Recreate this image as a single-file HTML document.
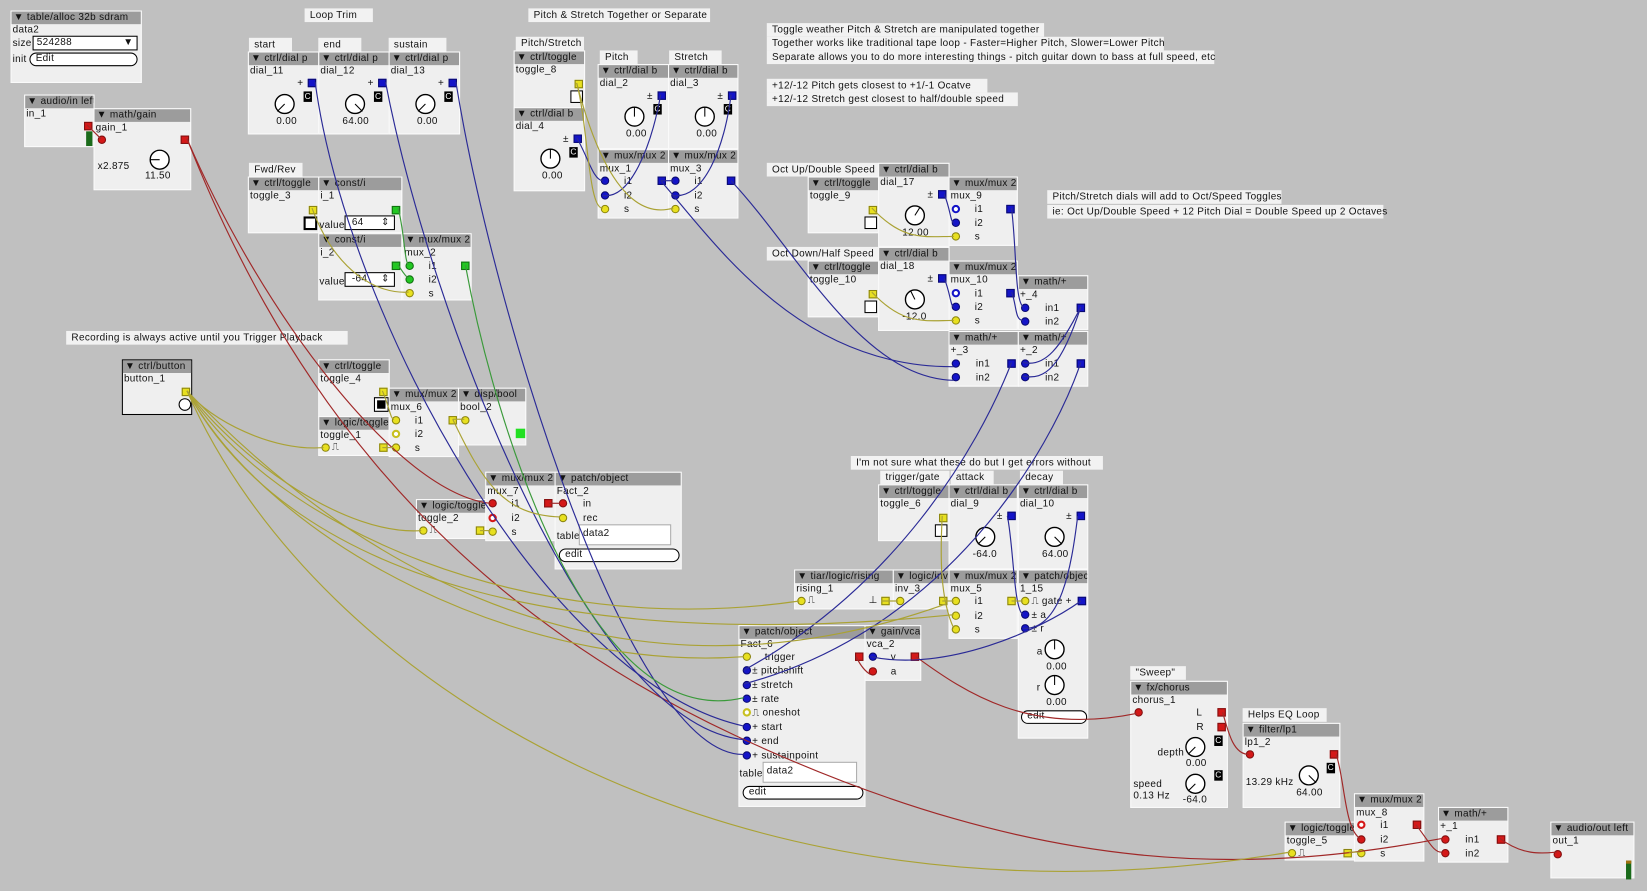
<!DOCTYPE html>
<html><head><meta charset="utf-8"><style>
html,body{margin:0;padding:0;background:#c0c0c0;width:1647px;height:891px;overflow:hidden}
.c{position:absolute;left:0;top:0;width:1568px;height:848px;transform:scale(1.0504,1.0507);transform-origin:0 0;font-family:"Liberation Sans",sans-serif;font-size:9.5px;color:#111;letter-spacing:.3px}
.o{position:absolute;background:#efefef;border:1px solid #fafafa;box-sizing:border-box}
.h{background:#9c9c9c;height:12px;line-height:12px;padding-left:2px;white-space:nowrap;overflow:hidden}
.n{height:12px;line-height:12px;padding-left:1px;white-space:nowrap}
.cm{position:absolute;background:#f2f2f2;height:13px;line-height:13px;padding:0 5px;white-space:nowrap;box-sizing:border-box}
.a{position:absolute;white-space:nowrap;line-height:11px}
.pi,.po{position:absolute;width:8px;height:8px;box-sizing:border-box}
.pi{border-radius:50%}
.R{background:#d41818;border:1px solid #801010}
.B{background:#1414c8;border:1px solid #0a0a70}
.Y{background:#e8e020;border:1px solid #8a8410}
.G{background:#22c822;border:1px solid #107010}
.ring{background:#fff;border:2px solid #1414c8}
.ringr{background:#fff;border:2px solid #d41818}
.ringy{background:#fff;border:2px solid #c8c020}
.bx{position:absolute;width:11px;height:11px;border:1px solid #000;background:#fff;box-sizing:border-box}
.cc{position:absolute;width:8px;height:10px;background:#000;color:#fff;font-size:8px;line-height:10px;text-align:center}
.btn{position:absolute;height:11px;border:1px solid #000;border-radius:7px;background:#fff;line-height:10px;padding-left:5px;box-sizing:border-box}
.fld{position:absolute;height:17px;border:1px solid #aaa;background:#fff;line-height:15px;padding-left:3px;box-sizing:border-box}
svg.w{position:absolute;left:0;top:0}
</style></head><body><div class="c">

<!-- comments -->
<div class="cm" style="left:290px;top:8px;width:65px">Loop Trim</div>
<div class="cm" style="left:503px;top:8px;width:173px">Pitch &amp; Stretch Together or Separate</div>
<div class="cm" style="left:237px;top:36px;width:41px">start</div>
<div class="cm" style="left:303px;top:36px;width:41px">end</div>
<div class="cm" style="left:370px;top:36px;width:55px">sustain</div>
<div class="cm" style="left:237px;top:155px;width:51px">Fwd/Rev</div>
<div class="cm" style="left:491px;top:35px;width:65px">Pitch/Stretch</div>
<div class="cm" style="left:571px;top:48px;width:36px">Pitch</div>
<div class="cm" style="left:637px;top:48px;width:50px">Stretch</div>
<div class="cm" style="left:730px;top:22px;width:264px">Toggle weather Pitch &amp; Stretch are manipulated together</div>
<div class="cm" style="left:730px;top:35px;width:378px">Together works like traditional tape loop - Faster=Higher Pitch, Slower=Lower Pitch</div>
<div class="cm" style="left:730px;top:48px;width:426px">Separate allows you to do more interesting things - pitch guitar down to bass at full speed, etc</div>
<div class="cm" style="left:730px;top:75px;width:210px">+12/-12 Pitch gets closest to +1/-1 Ocatve</div>
<div class="cm" style="left:730px;top:88px;width:239px">+12/-12 Stretch gest closest to half/double speed</div>
<div class="cm" style="left:730px;top:155px;width:106px">Oct Up/Double Speed</div>
<div class="cm" style="left:730px;top:235px;width:106px">Oct Down/Half Speed</div>
<div class="cm" style="left:997px;top:181px;width:223px">Pitch/Stretch dials will add to Oct/Speed Toggles</div>
<div class="cm" style="left:997px;top:195px;width:320px">ie: Oct Up/Double Speed + 12 Pitch Dial = Double Speed up 2 Octaves</div>
<div class="cm" style="left:63px;top:315px;width:268px">Recording is always active until you Trigger Playback</div>
<div class="cm" style="left:810px;top:434px;width:240px">I'm not sure what these do but I get errors without</div>
<div class="cm" style="left:838px;top:448px;width:66px">trigger/gate</div>
<div class="cm" style="left:905px;top:448px;width:41px">attack</div>
<div class="cm" style="left:971px;top:448px;width:41px">decay</div>
<div class="cm" style="left:1076px;top:634px;width:53px">"Sweep"</div>
<div class="cm" style="left:1183px;top:674px;width:80px">Helps EQ Loop</div>

<!-- table alloc -->
<div class="o" style="left:10px;top:10px;width:125px;height:69px"><div class="h">▼ table/alloc 32b sdram</div><div class="n">data2</div>
<div class="a" style="left:1px;top:25px">size</div><div class="fld" style="left:20px;top:23px;width:100px;height:14px;border-color:#000;line-height:12px">524288<span style="position:absolute;right:3px">▼</span></div>
<div class="a" style="left:1px;top:40px">init</div><div class="btn" style="left:17px;top:39px;width:103px;height:13px">Edit</div></div>

<!-- audio in -->
<div class="o" style="left:23px;top:90px;width:67px;height:50px"><div class="h">▼ audio/in left</div><div class="n">in_1</div>
<div class="po R" style="left:56px;top:25px"></div><div style="position:absolute;left:58px;top:34px;width:6px;height:14px;background:#1a6a1a"></div></div>
<!-- gain -->
<div class="o" style="left:89px;top:103px;width:93px;height:78px"><div class="h">▼ math/gain</div><div class="n">gain_1</div>
<div class="pi R" style="left:3px;top:25px"></div><div class="po R" style="left:82px;top:25px"></div>
<div class="a" style="left:3px;top:49px">x2.875</div>
<svg style="position:absolute;left:50px;top:36px" width="24" height="24"><circle cx="12" cy="12" r="9" fill="#fff" stroke="#000" stroke-width="1.3"/><line x1="12" y1="12" x2="3" y2="12" stroke="#000"/></svg><div class="a" style="left:48px;top:58px">11.50</div></div>

<!-- dials p -->
<div class="o" style="left:236px;top:49px;width:68px;height:79px"><div class="h">▼ ctrl/dial p</div><div class="n">dial_11</div><div class="a" style="left:46px;top:24px">+</div><div class="po B" style="left:56px;top:25px"></div><div class="cc" style="left:52px;top:37px">C</div>
<svg style="position:absolute;left:22px;top:37px" width="24" height="24"><circle cx="12" cy="12" r="9" fill="#fff" stroke="#000" stroke-width="1.3"/><line x1="12" y1="12" x2="5" y2="19" stroke="#000"/></svg><div class="a" style="left:26px;top:60px">0.00</div></div>
<div class="o" style="left:303px;top:49px;width:68px;height:79px"><div class="h">▼ ctrl/dial p</div><div class="n">dial_12</div><div class="a" style="left:46px;top:24px">+</div><div class="po B" style="left:56px;top:25px"></div><div class="cc" style="left:52px;top:37px">C</div>
<svg style="position:absolute;left:22px;top:37px" width="24" height="24"><circle cx="12" cy="12" r="9" fill="#fff" stroke="#000" stroke-width="1.3"/><line x1="12" y1="12" x2="19" y2="19" stroke="#000"/></svg><div class="a" style="left:22px;top:60px">64.00</div></div>
<div class="o" style="left:370px;top:49px;width:68px;height:79px"><div class="h">▼ ctrl/dial p</div><div class="n">dial_13</div><div class="a" style="left:46px;top:24px">+</div><div class="po B" style="left:56px;top:25px"></div><div class="cc" style="left:52px;top:37px">C</div>
<svg style="position:absolute;left:22px;top:37px" width="24" height="24"><circle cx="12" cy="12" r="9" fill="#fff" stroke="#000" stroke-width="1.3"/><line x1="12" y1="12" x2="5" y2="19" stroke="#000"/></svg><div class="a" style="left:26px;top:60px">0.00</div></div>

<!-- toggle_3, const -->
<div class="o" style="left:236px;top:168px;width:68px;height:54px"><div class="h">▼ ctrl/toggle</div><div class="n">toggle_3</div><div class="po Y" style="left:57px;top:27px"></div><div class="bx" style="left:52px;top:37px;border-width:2px;width:13px;height:13px"></div></div>
<div class="o" style="left:303px;top:168px;width:80px;height:54px"><div class="h">▼ const/i</div><div class="n">i_1</div><div class="po G" style="left:69px;top:27px"></div><div class="a" style="left:0;top:40px">value</div><div class="fld" style="left:24px;top:36px;width:48px;height:14px;line-height:12px;border-color:#000">&nbsp;64<span style="position:absolute;right:4px">⇕</span></div></div>
<div class="o" style="left:303px;top:222px;width:80px;height:64px"><div class="h">▼ const/i</div><div class="n">i_2</div><div class="po G" style="left:69px;top:26px"></div><div class="a" style="left:0;top:40px">value</div><div class="fld" style="left:24px;top:36px;width:48px;height:14px;line-height:12px;border-color:#000">&nbsp;-64<span style="position:absolute;right:4px">⇕</span></div></div>
<div class="o" style="left:383px;top:222px;width:66px;height:64px"><div class="h">▼ mux/mux 2</div><div class="n">mux_2</div>
<div class="pi G" style="left:2px;top:26px"></div><div class="a" style="left:24px;top:25px">i1</div><div class="po G" style="left:55px;top:26px"></div>
<div class="pi G" style="left:2px;top:39px"></div><div class="a" style="left:24px;top:38px">i2</div>
<div class="pi Y" style="left:2px;top:52px"></div><div class="a" style="left:24px;top:51px">s</div></div>

<!-- button -->
<div class="o" style="left:116px;top:342px;width:67px;height:53px;border-color:#000"><div class="h">▼ ctrl/button</div><div class="n">button_1</div><div class="po Y" style="left:56px;top:26px"></div><div class="bx" style="left:53px;top:36px;border-radius:50%;width:12px;height:12px"></div></div>

<!-- toggle_4, toggle_1, mux_6, bool_2 -->
<div class="o" style="left:303px;top:342px;width:68px;height:55px"><div class="h">▼ ctrl/toggle</div><div class="n">toggle_4</div><div class="po Y" style="left:57px;top:26px"></div><div class="bx" style="left:53px;top:36px;background:#000;border:2px solid #fff;outline:1px solid #000;width:12px;height:12px"></div></div>
<div class="o" style="left:303px;top:396px;width:68px;height:38px"><div class="h">▼ logic/toggle</div><div class="n">toggle_1</div><div class="pi Y" style="left:2px;top:25px"></div><div class="a" style="left:12px;top:23px">⎍</div><div class="po Y" style="left:57px;top:25px"></div></div>
<div class="o" style="left:370px;top:369px;width:67px;height:66px"><div class="h">▼ mux/mux 2</div><div class="n">mux_6</div>
<div class="pi Y" style="left:2px;top:26px"></div><div class="a" style="left:24px;top:25px">i1</div><div class="po Y" style="left:56px;top:26px"></div>
<div class="pi ringy" style="left:2px;top:39px"></div><div class="a" style="left:24px;top:38px">i2</div>
<div class="pi Y" style="left:2px;top:52px"></div><div class="a" style="left:24px;top:51px">s</div></div>
<div class="o" style="left:436px;top:369px;width:65px;height:55px"><div class="h">▼ disp/bool</div><div class="n">bool_2</div><div class="pi Y" style="left:2px;top:26px"></div><div style="position:absolute;left:54px;top:38px;width:9px;height:9px;background:#22e022"></div></div>

<!-- toggle_2, mux_7, Fact_2 -->
<div class="o" style="left:396px;top:475px;width:67px;height:38px"><div class="h">▼ logic/toggle</div><div class="n">toggle_2</div><div class="pi Y" style="left:2px;top:25px"></div><div class="a" style="left:12px;top:23px">⎍</div><div class="po Y" style="left:56px;top:25px"></div></div>
<div class="o" style="left:462px;top:449px;width:67px;height:66px"><div class="h">▼ mux/mux 2</div><div class="n">mux_7</div>
<div class="pi R" style="left:2px;top:25px"></div><div class="a" style="left:24px;top:24px">i1</div><div class="po R" style="left:55px;top:25px"></div>
<div class="pi ringr" style="left:2px;top:39px"></div><div class="a" style="left:24px;top:38px">i2</div>
<div class="pi Y" style="left:2px;top:52px"></div><div class="a" style="left:24px;top:51px">s</div></div>
<div class="o" style="left:528px;top:449px;width:121px;height:93px"><div class="h">▼ patch/object</div><div class="n">Fact_2</div>
<div class="pi R" style="left:3px;top:25px"></div><div class="a" style="left:26px;top:24px">in</div>
<div class="pi Y" style="left:3px;top:39px"></div><div class="a" style="left:26px;top:38px">rec</div>
<div class="a" style="left:1px;top:55px">table</div><div class="fld" style="left:22px;top:49px;width:88px;height:20px">data2</div>
<div class="btn" style="left:3px;top:72px;width:115px;height:13px">edit</div></div>

<!-- pitch/stretch -->
<div class="o" style="left:489px;top:48px;width:68px;height:55px"><div class="h">▼ ctrl/toggle</div><div class="n">toggle_8</div><div class="po Y" style="left:57px;top:27px"></div><div class="bx" style="left:53px;top:37px;width:12px;height:12px"></div></div>
<div class="o" style="left:489px;top:102px;width:68px;height:80px"><div class="h">▼ ctrl/dial b</div><div class="n">dial_4</div><div class="a" style="left:46px;top:24px">±</div><div class="po B" style="left:56px;top:25px"></div><div class="cc" style="left:52px;top:37px">C</div>
<svg style="position:absolute;left:22px;top:36px" width="24" height="24"><circle cx="12" cy="12" r="9" fill="#fff" stroke="#000" stroke-width="1.3"/><line x1="12" y1="12" x2="12" y2="3" stroke="#000"/></svg><div class="a" style="left:26px;top:59px">0.00</div></div>
<div class="o" style="left:569px;top:61px;width:68px;height:81px"><div class="h">▼ ctrl/dial b</div><div class="n">dial_2</div><div class="a" style="left:46px;top:24px">±</div><div class="po B" style="left:56px;top:25px"></div><div class="cc" style="left:52px;top:37px">C</div>
<svg style="position:absolute;left:22px;top:37px" width="24" height="24"><circle cx="12" cy="12" r="9" fill="#fff" stroke="#000" stroke-width="1.3"/><line x1="12" y1="12" x2="12" y2="3" stroke="#000"/></svg><div class="a" style="left:26px;top:60px">0.00</div></div>
<div class="o" style="left:636px;top:61px;width:67px;height:81px"><div class="h">▼ ctrl/dial b</div><div class="n">dial_3</div><div class="a" style="left:46px;top:24px">±</div><div class="po B" style="left:56px;top:25px"></div><div class="cc" style="left:52px;top:37px">C</div>
<svg style="position:absolute;left:22px;top:37px" width="24" height="24"><circle cx="12" cy="12" r="9" fill="#fff" stroke="#000" stroke-width="1.3"/><line x1="12" y1="12" x2="12" y2="3" stroke="#000"/></svg><div class="a" style="left:26px;top:60px">0.00</div></div>
<div class="o" style="left:569px;top:142px;width:68px;height:66px"><div class="h">▼ mux/mux 2</div><div class="n">mux_1</div>
<div class="pi B" style="left:2px;top:25px"></div><div class="a" style="left:24px;top:24px">i1</div><div class="po B" style="left:56px;top:25px"></div>
<div class="pi B" style="left:2px;top:39px"></div><div class="a" style="left:24px;top:38px">i2</div>
<div class="pi Y" style="left:2px;top:52px"></div><div class="a" style="left:24px;top:51px">s</div></div>
<div class="o" style="left:636px;top:142px;width:67px;height:66px"><div class="h">▼ mux/mux 2</div><div class="n">mux_3</div>
<div class="pi B" style="left:2px;top:25px"></div><div class="a" style="left:24px;top:24px">i1</div><div class="po B" style="left:55px;top:25px"></div>
<div class="pi B" style="left:2px;top:39px"></div><div class="a" style="left:24px;top:38px">i2</div>
<div class="pi Y" style="left:2px;top:52px"></div><div class="a" style="left:24px;top:51px">s</div></div>

<!-- oct up/down -->
<div class="o" style="left:769px;top:168px;width:68px;height:54px"><div class="h">▼ ctrl/toggle</div><div class="n">toggle_9</div><div class="po Y" style="left:57px;top:27px"></div><div class="bx" style="left:53px;top:37px;width:12px;height:12px"></div></div>
<div class="o" style="left:836px;top:155px;width:68px;height:80px"><div class="h">▼ ctrl/dial b</div><div class="n">dial_17</div><div class="a" style="left:46px;top:24px">±</div><div class="po B" style="left:56px;top:25px"></div>
<svg style="position:absolute;left:22px;top:37px" width="24" height="24"><circle cx="12" cy="12" r="9" fill="#fff" stroke="#000" stroke-width="1.3"/><line x1="12" y1="12" x2="17" y2="4" stroke="#000"/></svg><div class="a" style="left:22px;top:60px">12.00</div></div>
<div class="o" style="left:903px;top:168px;width:66px;height:66px"><div class="h">▼ mux/mux 2</div><div class="n">mux_9</div>
<div class="pi ring" style="left:2px;top:26px"></div><div class="a" style="left:24px;top:25px">i1</div><div class="po B" style="left:54px;top:26px"></div>
<div class="pi B" style="left:2px;top:39px"></div><div class="a" style="left:24px;top:38px">i2</div>
<div class="pi Y" style="left:2px;top:52px"></div><div class="a" style="left:24px;top:51px">s</div></div>
<div class="o" style="left:769px;top:248px;width:68px;height:54px"><div class="h">▼ ctrl/toggle</div><div class="n">toggle_10</div><div class="po Y" style="left:57px;top:27px"></div><div class="bx" style="left:53px;top:37px;width:12px;height:12px"></div></div>
<div class="o" style="left:836px;top:235px;width:68px;height:80px"><div class="h">▼ ctrl/dial b</div><div class="n">dial_18</div><div class="a" style="left:46px;top:24px">±</div><div class="po B" style="left:56px;top:25px"></div>
<svg style="position:absolute;left:22px;top:37px" width="24" height="24"><circle cx="12" cy="12" r="9" fill="#fff" stroke="#000" stroke-width="1.3"/><line x1="12" y1="12" x2="8" y2="4" stroke="#000"/></svg><div class="a" style="left:22px;top:60px">-12.0</div></div>
<div class="o" style="left:903px;top:248px;width:66px;height:66px"><div class="h">▼ mux/mux 2</div><div class="n">mux_10</div>
<div class="pi ring" style="left:2px;top:26px"></div><div class="a" style="left:24px;top:25px">i1</div><div class="po B" style="left:54px;top:26px"></div>
<div class="pi B" style="left:2px;top:39px"></div><div class="a" style="left:24px;top:38px">i2</div>
<div class="pi Y" style="left:2px;top:52px"></div><div class="a" style="left:24px;top:51px">s</div></div>
<div class="o" style="left:969px;top:262px;width:67px;height:52px"><div class="h">▼ math/+</div><div class="n">+_4</div>
<div class="pi B" style="left:2px;top:26px"></div><div class="a" style="left:25px;top:25px">in1</div><div class="po B" style="left:55px;top:26px"></div>
<div class="pi B" style="left:2px;top:39px"></div><div class="a" style="left:25px;top:38px">in2</div></div>
<div class="o" style="left:903px;top:315px;width:67px;height:53px"><div class="h">▼ math/+</div><div class="n">+_3</div>
<div class="pi B" style="left:2px;top:26px"></div><div class="a" style="left:25px;top:25px">in1</div><div class="po B" style="left:55px;top:26px"></div>
<div class="pi B" style="left:2px;top:39px"></div><div class="a" style="left:25px;top:38px">in2</div></div>
<div class="o" style="left:969px;top:315px;width:67px;height:53px"><div class="h">▼ math/+</div><div class="n">+_2</div>
<div class="pi B" style="left:2px;top:26px"></div><div class="a" style="left:25px;top:25px">in1</div><div class="po B" style="left:55px;top:26px"></div>
<div class="pi B" style="left:2px;top:39px"></div><div class="a" style="left:25px;top:38px">in2</div></div>

<!-- envelope section -->
<div class="o" style="left:836px;top:461px;width:68px;height:54px"><div class="h">▼ ctrl/toggle</div><div class="n">toggle_6</div><div class="po Y" style="left:57px;top:27px"></div><div class="bx" style="left:53px;top:37px;width:12px;height:12px"></div></div>
<div class="o" style="left:903px;top:461px;width:66px;height:81px"><div class="h">▼ ctrl/dial b</div><div class="n">dial_9</div><div class="a" style="left:45px;top:24px">±</div><div class="po B" style="left:55px;top:25px"></div>
<svg style="position:absolute;left:22px;top:37px" width="24" height="24"><circle cx="12" cy="12" r="9" fill="#fff" stroke="#000" stroke-width="1.3"/><line x1="12" y1="12" x2="5" y2="19" stroke="#000"/></svg><div class="a" style="left:22px;top:60px">-64.0</div></div>
<div class="o" style="left:969px;top:461px;width:67px;height:81px"><div class="h">▼ ctrl/dial b</div><div class="n">dial_10</div><div class="a" style="left:45px;top:24px">±</div><div class="po B" style="left:55px;top:25px"></div>
<svg style="position:absolute;left:22px;top:37px" width="24" height="24"><circle cx="12" cy="12" r="9" fill="#fff" stroke="#000" stroke-width="1.3"/><line x1="12" y1="12" x2="19" y2="19" stroke="#000"/></svg><div class="a" style="left:22px;top:60px">64.00</div></div>
<div class="o" style="left:756px;top:542px;width:95px;height:38px"><div class="h">▼ tiar/logic/rising</div><div class="n">rising_1</div><div class="pi Y" style="left:2px;top:25px"></div><div class="a" style="left:12px;top:23px">⎍</div><div class="a" style="left:70px;top:23px">⊥</div><div class="po Y" style="left:82px;top:25px"></div></div>
<div class="o" style="left:850px;top:542px;width:54px;height:38px"><div class="h">▼ logic/inv</div><div class="n">inv_3</div><div class="pi Y" style="left:2px;top:25px"></div><div class="po Y" style="left:43px;top:25px"></div></div>
<div class="o" style="left:903px;top:542px;width:66px;height:66px"><div class="h">▼ mux/mux 2</div><div class="n">mux_5</div>
<div class="pi Y" style="left:2px;top:25px"></div><div class="a" style="left:24px;top:24px">i1</div><div class="po Y" style="left:55px;top:25px"></div>
<div class="pi Y" style="left:2px;top:39px"></div><div class="a" style="left:24px;top:38px">i2</div>
<div class="pi Y" style="left:2px;top:52px"></div><div class="a" style="left:24px;top:51px">s</div></div>
<div class="o" style="left:969px;top:542px;width:67px;height:161px"><div class="h">▼ patch/object</div><div class="n">1_15</div>
<div class="pi Y" style="left:2px;top:25px"></div><div class="a" style="left:12px;top:24px">⎍ gate +</div><div class="po B" style="left:56px;top:25px"></div>
<div class="pi B" style="left:2px;top:38px"></div><div class="a" style="left:12px;top:37px">± a</div>
<div class="pi B" style="left:2px;top:51px"></div><div class="a" style="left:12px;top:50px">± r</div>
<div class="a" style="left:17px;top:72px">a</div><svg style="position:absolute;left:22px;top:63px" width="24" height="24"><circle cx="12" cy="12" r="9" fill="#fff" stroke="#000" stroke-width="1.3"/><line x1="12" y1="12" x2="12" y2="3" stroke="#000"/></svg><div class="a" style="left:26px;top:86px">0.00</div>
<div class="a" style="left:17px;top:106px">r</div><svg style="position:absolute;left:22px;top:97px" width="24" height="24"><circle cx="12" cy="12" r="9" fill="#fff" stroke="#000" stroke-width="1.3"/><line x1="12" y1="12" x2="12" y2="3" stroke="#000"/></svg><div class="a" style="left:26px;top:120px">0.00</div>
<div class="btn" style="left:2px;top:133px;width:63px;height:13px">edit</div></div>

<!-- Fact_6 / vca -->
<div class="o" style="left:703px;top:595px;width:121px;height:173px"><div class="h">▼ patch/object</div><div class="n">Fact_6</div>
<div class="pi Y" style="left:3px;top:25px"></div><div class="a" style="left:24px;top:24px">trigger</div><div class="po R" style="left:110px;top:25px"></div>
<div class="pi B" style="left:3px;top:38px"></div><div class="a" style="left:12px;top:37px">± pitchshift</div>
<div class="pi B" style="left:3px;top:52px"></div><div class="a" style="left:12px;top:51px">± stretch</div>
<div class="pi B" style="left:3px;top:65px"></div><div class="a" style="left:12px;top:64px">± rate</div>
<div class="pi ringy" style="left:3px;top:78px"></div><div class="a" style="left:12px;top:77px">⎍ oneshot</div>
<div class="pi B" style="left:3px;top:92px"></div><div class="a" style="left:12px;top:91px">+ start</div>
<div class="pi B" style="left:3px;top:105px"></div><div class="a" style="left:12px;top:104px">+ end</div>
<div class="pi B" style="left:3px;top:119px"></div><div class="a" style="left:12px;top:118px">+ sustainpoint</div>
<div class="a" style="left:0;top:135px">table</div><div class="fld" style="left:22px;top:129px;width:90px;height:20px">data2</div>
<div class="btn" style="left:3px;top:152px;width:115px;height:13px">edit</div></div>
<div class="o" style="left:823px;top:595px;width:54px;height:53px"><div class="h">▼ gain/vca</div><div class="n">vca_2</div>
<div class="pi B" style="left:3px;top:25px"></div><div class="a" style="left:24px;top:24px">v</div><div class="po R" style="left:43px;top:25px"></div>
<div class="pi R" style="left:3px;top:39px"></div><div class="a" style="left:24px;top:38px">a</div></div>

<!-- chorus, lp, output -->
<div class="o" style="left:1076px;top:648px;width:93px;height:121px"><div class="h">▼ fx/chorus</div><div class="n">chorus_1</div>
<div class="pi R" style="left:3px;top:25px"></div><div class="a" style="left:62px;top:24px">L</div><div class="po R" style="left:82px;top:25px"></div>
<div class="a" style="left:62px;top:38px">R</div><div class="po R" style="left:82px;top:39px"></div>
<div class="cc" style="left:79px;top:51px">C</div><div class="a" style="left:25px;top:62px">depth</div>
<svg style="position:absolute;left:49px;top:50px" width="24" height="24"><circle cx="12" cy="12" r="9" fill="#fff" stroke="#000" stroke-width="1.3"/><line x1="12" y1="12" x2="5" y2="19" stroke="#000"/></svg><div class="a" style="left:52px;top:72px">0.00</div>
<div class="cc" style="left:79px;top:84px">C</div><div class="a" style="left:2px;top:92px">speed<br>0.13 Hz</div>
<svg style="position:absolute;left:49px;top:85px" width="24" height="24"><circle cx="12" cy="12" r="9" fill="#fff" stroke="#000" stroke-width="1.3"/><line x1="12" y1="12" x2="5" y2="19" stroke="#000"/></svg><div class="a" style="left:49px;top:107px">-64.0</div></div>
<div class="o" style="left:1183px;top:688px;width:93px;height:81px"><div class="h">▼ filter/lp1</div><div class="n">lp1_2</div>
<div class="pi R" style="left:2px;top:25px"></div><div class="po R" style="left:82px;top:25px"></div><div class="cc" style="left:79px;top:37px">C</div>
<div class="a" style="left:2px;top:50px">13.29 kHz</div>
<svg style="position:absolute;left:50px;top:37px" width="24" height="24"><circle cx="12" cy="12" r="9" fill="#fff" stroke="#000" stroke-width="1.3"/><line x1="12" y1="12" x2="19" y2="19" stroke="#000"/></svg><div class="a" style="left:50px;top:60px">64.00</div></div>
<div class="o" style="left:1223px;top:782px;width:67px;height:37px"><div class="h">▼ logic/toggle</div><div class="n">toggle_5</div><div class="pi Y" style="left:2px;top:25px"></div><div class="a" style="left:12px;top:23px">⎍</div><div class="po Y" style="left:55px;top:25px"></div></div>
<div class="o" style="left:1289px;top:755px;width:67px;height:65px"><div class="h">▼ mux/mux 2</div><div class="n">mux_8</div>
<div class="pi ringr" style="left:2px;top:25px"></div><div class="a" style="left:24px;top:24px">i1</div><div class="po R" style="left:55px;top:25px"></div>
<div class="pi R" style="left:2px;top:39px"></div><div class="a" style="left:24px;top:38px">i2</div>
<div class="pi Y" style="left:2px;top:52px"></div><div class="a" style="left:24px;top:51px">s</div></div>
<div class="o" style="left:1369px;top:768px;width:67px;height:53px"><div class="h">▼ math/+</div><div class="n">+_1</div>
<div class="pi R" style="left:2px;top:26px"></div><div class="a" style="left:25px;top:25px">in1</div><div class="po R" style="left:55px;top:26px"></div>
<div class="pi R" style="left:2px;top:39px"></div><div class="a" style="left:25px;top:38px">in2</div></div>
<div class="o" style="left:1476px;top:782px;width:80px;height:54px"><div class="h">▼ audio/out left</div><div class="n">out_1</div>
<div class="pi R" style="left:2px;top:26px"></div><div style="position:absolute;left:71px;top:36px;width:5px;height:15px;background:#1a6a1a;border-top:3px solid #a07010"></div></div>

<!-- wires -->
<svg class="w" width="1568" height="848" fill="none" stroke-width="1.1">
<g stroke="#a02828">
<path d="M83,119 L96,132"/>
<path d="M178,132 C250,300 380,470 467,479"/>
<path d="M178,132 C260,340 400,560 700,700 S1200,830 1373,798"/>
<path d="M523,479 L533,479"/>
<path d="M815,625 C820,635 825,640 829,642"/>
<path d="M872,625 C920,660 980,700 1082,679"/>
<path d="M1164,678 C1170,700 1175,718 1189,718"/>
<path d="M1272,718 C1280,740 1280,790 1295,798"/>
<path d="M1348,785 C1360,800 1365,812 1373,811"/>
<path d="M1428,798 C1450,815 1470,812 1482,811"/>
</g>
<g stroke="#2a2a96">
<path d="M300,78 C330,300 520,650 708,691"/>
<path d="M367,78 C410,300 560,690 708,704"/>
<path d="M434,78 C470,300 600,720 708,718"/>
<path d="M549,131 C560,150 565,172 574,172"/>
<path d="M629,90 C620,140 600,190 574,186"/>
<path d="M696,90 C690,140 670,190 641,186"/>
<path d="M629,172 L641,172"/>
<path d="M629,172 C680,230 760,350 908,349"/>
<path d="M696,172 C760,240 820,360 908,362"/>
<path d="M899,185 C905,200 905,212 908,212"/>
<path d="M899,265 C905,280 905,292 908,292"/>
<path d="M963,198 C968,240 966,285 974,292"/>
<path d="M963,278 C968,290 966,305 974,305"/>
<path d="M1029,292 C1010,330 995,350 974,345"/>
<path d="M1029,292 C1010,350 995,362 974,358"/>
<path d="M963,345 C930,430 850,560 708,638"/>
<path d="M1029,345 C1000,430 900,600 708,651"/>
<path d="M959,491 C965,520 965,580 974,585"/>
<path d="M1026,491 C1020,540 1010,600 974,598"/>
<path d="M1029,572 C990,600 900,640 829,625"/>
</g>
<g stroke="#3a9a3a">
<path d="M379,198 C385,220 385,250 389,252"/>
<path d="M379,252 C383,258 385,262 389,265"/>
<path d="M443,252 C470,400 560,700 708,664"/>
</g>
<g stroke="#aaa234">
<path d="M297,198 C320,260 360,280 389,278"/>
<path d="M549,79 C560,120 560,200 574,198"/>
<path d="M549,79 C570,160 600,210 641,198"/>
<path d="M830,198 C860,230 880,225 908,225"/>
<path d="M830,278 C860,310 880,305 908,305"/>
<path d="M364,372 C370,385 372,400 375,399"/>
<path d="M364,426 L375,426"/>
<path d="M431,399 L442,399"/>
<path d="M431,399 C460,460 480,490 533,492"/>
<path d="M457,505 L467,505"/>
<path d="M178,372 C200,400 260,430 308,426"/>
<path d="M178,372 C230,440 330,510 401,505"/>
<path d="M178,372 C260,500 500,610 761,572"/>
<path d="M178,372 C260,520 500,640 708,625"/>
<path d="M178,372 C280,560 560,620 908,585"/>
<path d="M178,372 C300,650 700,900 1228,811"/>
<path d="M178,372 C300,500 550,700 900,575"/>
<path d="M839,572 L855,572"/>
<path d="M897,572 L908,572"/>
<path d="M897,491 C895,530 895,570 908,598"/>
<path d="M963,572 L974,572"/>
<path d="M1284,811 L1295,811"/>
</g>
</svg>
</div></body></html>
